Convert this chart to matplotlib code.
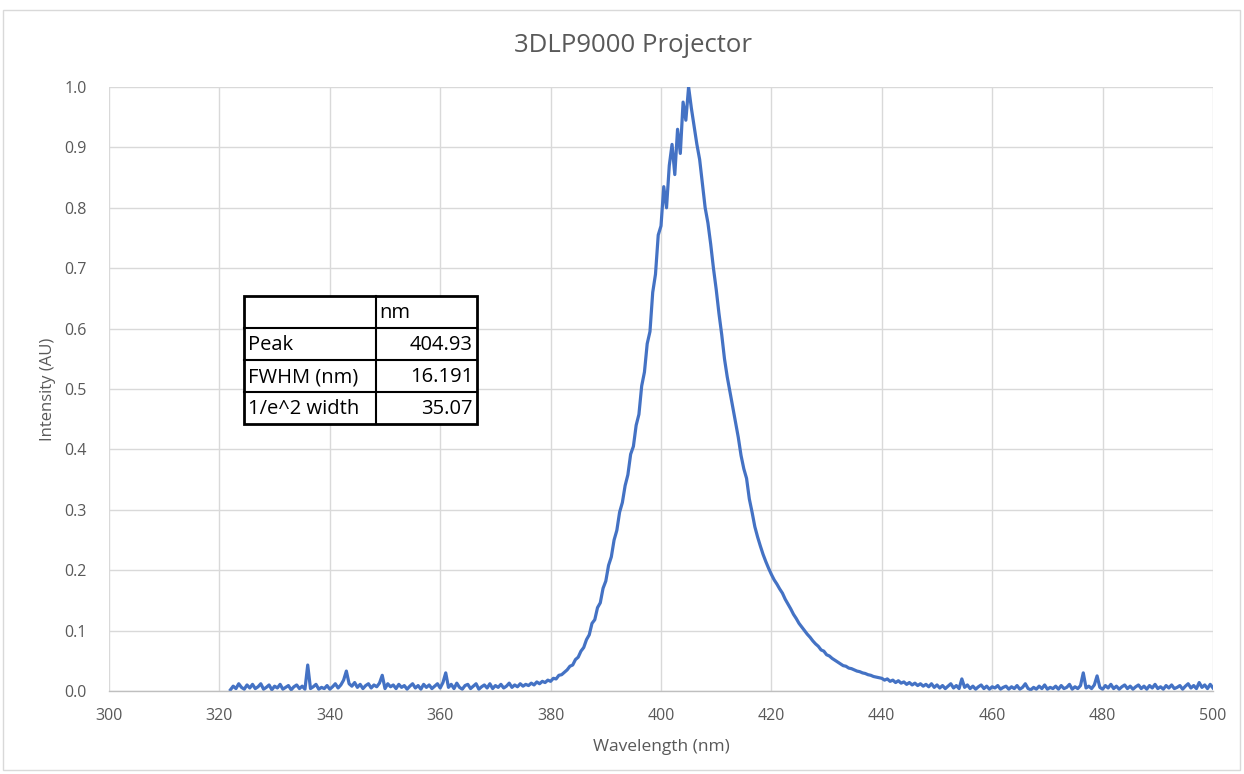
import numpy as np
import matplotlib
matplotlib.use("Agg")
import matplotlib.pyplot as plt
from matplotlib.patches import Rectangle
from matplotlib.lines import Line2D

# ---- data ----
wl_start = 322.0
wl_step = 0.5
intensity = [
    0.002, 0.008, 0.004, 0.012, 0.006, 0.003, 0.010, 0.005, 0.011, 0.004,  # 322
    0.007, 0.012, 0.003, 0.006, 0.010, 0.002, 0.008, 0.005, 0.011, 0.003,  # 327
    0.006, 0.009, 0.002, 0.007, 0.010, 0.004, 0.008, 0.003, 0.043, 0.004,  # 332
    0.007, 0.011, 0.003, 0.006, 0.004, 0.009, 0.003, 0.007, 0.012, 0.005,  # 337
    0.010, 0.018, 0.033, 0.012, 0.008, 0.014, 0.006, 0.011, 0.004, 0.009,  # 342
    0.012, 0.005, 0.010, 0.007, 0.013, 0.026, 0.004, 0.012, 0.007, 0.010,  # 347
    0.004, 0.011, 0.006, 0.009, 0.003, 0.008, 0.012, 0.005, 0.009, 0.003,  # 352
    0.011, 0.006, 0.010, 0.004, 0.008, 0.012, 0.005, 0.014, 0.030, 0.006,  # 357
    0.011, 0.004, 0.013, 0.006, 0.003, 0.009, 0.011, 0.004, 0.008, 0.012,  # 362
    0.003, 0.007, 0.010, 0.005, 0.012, 0.004, 0.009, 0.006, 0.011, 0.005,  # 367
    0.008, 0.013, 0.006, 0.010, 0.007, 0.012, 0.008, 0.011, 0.009, 0.013,  # 372
    0.010, 0.015, 0.012, 0.016, 0.014, 0.018, 0.016, 0.021, 0.020, 0.026,  # 377
    0.027, 0.031, 0.035, 0.041, 0.043, 0.052, 0.056, 0.066, 0.072, 0.085,  # 382
    0.093, 0.112, 0.118, 0.138, 0.146, 0.170, 0.182, 0.208, 0.222, 0.250,  # 387
    0.266, 0.296, 0.312, 0.340, 0.358, 0.392, 0.405, 0.440, 0.458, 0.505,  # 392
    0.528, 0.575, 0.595, 0.660, 0.690, 0.755, 0.770, 0.835, 0.800, 0.870,  # 397
    0.905, 0.855, 0.930, 0.890, 0.975, 0.945, 1.000, 0.965, 0.935, 0.905,  # 402
    0.880, 0.840, 0.800, 0.775, 0.740, 0.700, 0.665, 0.625, 0.590, 0.550,  # 407
    0.520, 0.495, 0.470, 0.445, 0.420, 0.390, 0.368, 0.352, 0.318, 0.296,  # 412
    0.272, 0.255, 0.240, 0.226, 0.214, 0.203, 0.193, 0.184, 0.177, 0.169,  # 417
    0.162, 0.152, 0.144, 0.136, 0.127, 0.120, 0.112, 0.106, 0.100, 0.094,  # 422
    0.089, 0.083, 0.078, 0.074, 0.068, 0.066, 0.060, 0.058, 0.054, 0.051,  # 427
    0.048, 0.045, 0.042, 0.041, 0.038, 0.037, 0.035, 0.033, 0.032, 0.030,  # 432
    0.029, 0.027, 0.026, 0.024, 0.023, 0.022, 0.021, 0.018, 0.020, 0.016,  # 437
    0.018, 0.014, 0.017, 0.013, 0.015, 0.011, 0.014, 0.010, 0.013, 0.009,  # 442
    0.012, 0.008, 0.011, 0.007, 0.012, 0.006, 0.010, 0.005, 0.009, 0.004,  # 447
    0.008, 0.012, 0.005, 0.009, 0.004, 0.020, 0.006, 0.010, 0.004, 0.008,  # 452
    0.003, 0.007, 0.010, 0.004, 0.008, 0.003, 0.007, 0.005, 0.009, 0.003,  # 457
    0.006, 0.008, 0.003, 0.007, 0.004, 0.009, 0.003, 0.006, 0.012, 0.004,  # 462
    0.002, 0.006, 0.003, 0.008, 0.004, 0.010, 0.003, 0.006, 0.004, 0.008,  # 467
    0.003, 0.009, 0.004, 0.006, 0.011, 0.003, 0.007, 0.004, 0.009, 0.030,  # 472
    0.005, 0.008, 0.004, 0.010, 0.025, 0.006, 0.003, 0.009, 0.005, 0.011,  # 477
    0.004, 0.008, 0.003, 0.007, 0.010, 0.004, 0.008, 0.003, 0.007, 0.010,  # 482
    0.004, 0.008, 0.003, 0.009, 0.005, 0.011, 0.004, 0.007, 0.003, 0.009,  # 487
    0.005, 0.010, 0.004, 0.006, 0.009, 0.003, 0.008, 0.012, 0.005, 0.009,  # 492
    0.004, 0.014, 0.006, 0.010, 0.004, 0.011, 0.005,                       # 497
]
wavelength = wl_start + wl_step * np.arange(len(intensity))

x_ticks = [300, 320, 340, 360, 380, 400, 420, 440, 460, 480, 500]
y_ticks = [0.0, 0.1, 0.2, 0.3, 0.4, 0.5, 0.6, 0.7, 0.8, 0.9, 1.0]

title = "3DLP9000 Projector"
x_label = "Wavelength (nm)"
y_label = "Intensity (AU)"

table_header = ["", "nm"]
table_rows = ["Peak", "FWHM (nm)", "1/e^2 width"]
table_values = ["404.93", "16.191", "35.07"]

# ---- figure ----
W, H = 1244, 774
plt.rcParams['font.family'] = ['Open Sans', 'DejaVu Sans']
fig = plt.figure(figsize=(W / 100, H / 100), dpi=100)

def fx(px):
    return px / W

def fy(py):
    return 1 - py / H

grey_text = "#595959"
grid_col = "#d9d9d9"
line_col = "#4472C4"

ax = fig.add_axes([fx(109), fy(691), fx(1213) - fx(109), fy(87) - fy(691)])
ax.plot(wavelength, intensity, color=line_col, lw=2.3, solid_joinstyle='round')
ax.set_xlim(300, 500)
ax.set_ylim(0, 1.0)
ax.set_xticks(x_ticks)
ax.set_yticks(y_ticks)
ax.set_yticklabels([f"{v:.1f}" for v in y_ticks])
ax.grid(True, color=grid_col, lw=1.0)
ax.set_axisbelow(True)
for s in ["top", "right", "left"]:
    ax.spines[s].set_visible(False)
ax.spines["bottom"].set_color("#bfbfbf")
ax.spines["bottom"].set_linewidth(1.0)
ax.tick_params(length=0, labelsize=11.5, colors=grey_text, pad=12)
ax.tick_params(axis='y', pad=16)

fig.text(fx(633), fy(45), title, ha="center", va="center", fontsize=18.5, color=grey_text)
fig.text(fx(661), fy(747), x_label, ha="center", va="center", fontsize=12.5, color=grey_text)
fig.text(fx(48), fy(389), y_label, ha="center", va="center", rotation=90, fontsize=12, color=grey_text)

# outer chart border
fig.patches.append(Rectangle((fx(3), fy(770)), fx(1240) - fx(3), fy(10) - fy(770),
                             transform=fig.transFigure, fill=False, edgecolor="#d9d9d9", lw=1.0))

# ---- stats table ----
tx0, tx1, tx2 = 244, 376, 477
ty = [296, 328, 360, 392, 424]
fig.patches.append(Rectangle((fx(tx0), fy(ty[-1])), fx(tx2) - fx(tx0), fy(ty[0]) - fy(ty[-1]),
                             transform=fig.transFigure, facecolor="white", edgecolor="black", lw=2.0, zorder=5))
for yy in ty[1:-1]:
    fig.lines.append(Line2D([fx(tx0), fx(tx2)], [fy(yy), fy(yy)], transform=fig.transFigure,
                            color="black", lw=1.5, zorder=6))
fig.lines.append(Line2D([fx(tx1), fx(tx1)], [fy(ty[0]), fy(ty[-1])], transform=fig.transFigure,
                        color="black", lw=1.5, zorder=6))
fig.text(fx(tx1 + 3), fy((ty[0] + ty[1]) / 2 + 1), table_header[1], ha="left", va="center",
         fontsize=14.5, color="black", zorder=7)
for i, (lab, val) in enumerate(zip(table_rows, table_values)):
    yc = (ty[i + 1] + ty[i + 2]) / 2 + 1
    fig.text(fx(tx0 + 4), fy(yc), lab, ha="left", va="center", fontsize=14.5, color="black", zorder=7)
    fig.text(fx(tx2 - 4), fy(yc), val, ha="right", va="center", fontsize=14.5, color="black", zorder=7)

fig.savefig("out.png", dpi=100, facecolor="white")
